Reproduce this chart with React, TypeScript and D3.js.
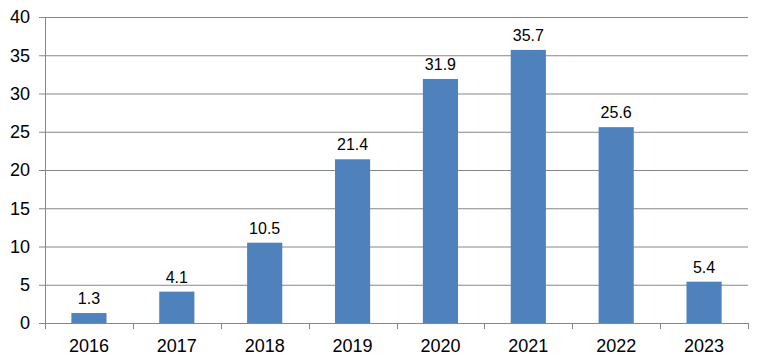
import React, { useEffect, useRef } from 'react';
import * as d3 from 'd3';

const years = ['2016', '2017', '2018', '2019', '2020', '2021', '2022', '2023'];
const values = [1.3, 4.1, 10.5, 21.4, 31.9, 35.7, 25.6, 5.4];
const yTicks = [0, 5, 10, 15, 20, 25, 30, 35, 40];

const App = () => {
  const svgRef = useRef<SVGSVGElement>(null);

  useEffect(() => {
    const svg = d3.select(svgRef.current);
    svg.selectAll('*').remove();

    const width = 763;
    const height = 364;
    const left = 45;
    const right = 748;
    const top = 17;
    const bottom = 323;
    const font = 'Liberation Sans, Arial, sans-serif';
    const gray = '#868686';

    const x = d3.scaleBand().domain(years).range([left, right]).paddingInner(0.6).paddingOuter(0.3);
    const band = d3.scaleBand().domain(years).range([left, right]);
    const y = d3.scaleLinear().domain([0, 40]).range([bottom, top]);

    svg.attr('width', width).attr('height', height);

    // gridlines + y ticks
    svg.append('g')
      .selectAll('line')
      .data(yTicks)
      .join('line')
      .attr('x1', left - 6)
      .attr('x2', right)
      .attr('y1', (d) => y(d) + 0.5)
      .attr('y2', (d) => y(d) + 0.5)
      .attr('stroke', gray)
      .attr('stroke-width', 1);

    svg.append('g')
      .selectAll('text')
      .data(yTicks)
      .join('text')
      .attr('x', 30)
      .attr('y', (d) => y(d))
      .attr('dy', '0.35em')
      .attr('text-anchor', 'end')
      .attr('font-family', font)
      .attr('font-size', 18)
      .attr('fill', '#000')
      .text((d) => d);

    // y axis line
    svg.append('line')
      .attr('x1', left + 0.5)
      .attr('x2', left + 0.5)
      .attr('y1', top)
      .attr('y2', bottom)
      .attr('stroke', gray);

    // bars
    svg.append('g')
      .selectAll('rect')
      .data(values)
      .join('rect')
      .attr('x', (d, i) => x(years[i]) as number)
      .attr('width', x.bandwidth())
      .attr('y', (d) => y(d))
      .attr('height', (d) => bottom - y(d))
      .attr('fill', '#4F81BD');

    // x tick marks
    const edges = years.map((yr) => band(yr) as number).concat([right]);
    svg.append('g')
      .selectAll('line')
      .data(edges)
      .join('line')
      .attr('x1', (d) => Math.round(d) + 0.5)
      .attr('x2', (d) => Math.round(d) + 0.5)
      .attr('y1', bottom)
      .attr('y2', bottom + 6)
      .attr('stroke', gray);

    // value labels
    svg.append('g')
      .selectAll('text')
      .data(values)
      .join('text')
      .attr('x', (d, i) => (x(years[i]) as number) + x.bandwidth() / 2)
      .attr('y', (d) => y(d) - 9)
      .attr('text-anchor', 'middle')
      .attr('font-family', font)
      .attr('font-size', 16)
      .attr('fill', '#000')
      .text((d) => d.toFixed(1));

    // x labels
    svg.append('g')
      .selectAll('text')
      .data(years)
      .join('text')
      .attr('x', (d) => (band(d) as number) + band.bandwidth() / 2)
      .attr('y', 352)
      .attr('text-anchor', 'middle')
      .attr('font-family', font)
      .attr('font-size', 18)
      .attr('fill', '#000')
      .text((d) => d);
  }, []);

  return <svg ref={svgRef} width={763} height={364} style={{ position: 'absolute', left: 0, top: 0 }} />;
};

export default App;
